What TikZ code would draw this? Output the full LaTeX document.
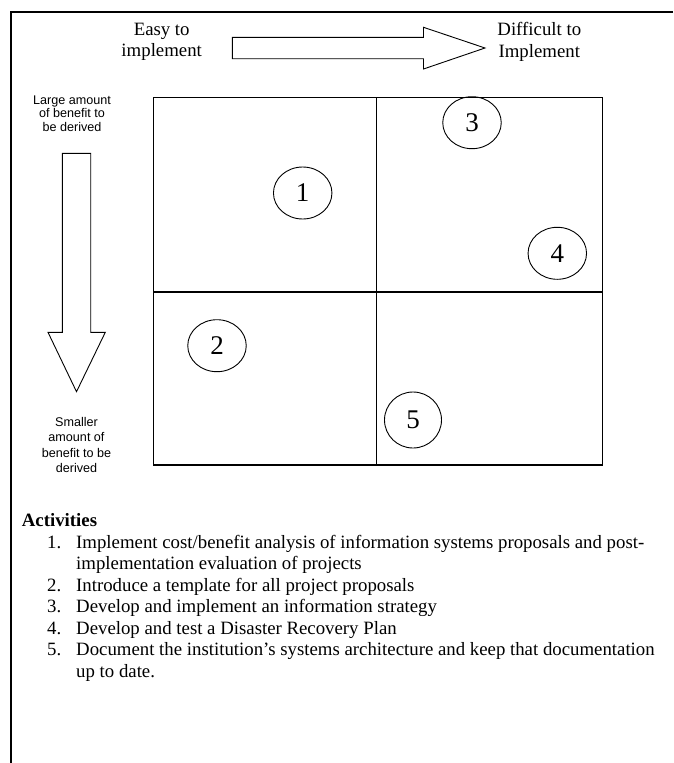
\documentclass[tikz,border=0pt]{standalone}
\usepackage{fontspec}
\setmainfont{Liberation Serif}
\setsansfont{Liberation Sans}
\usetikzlibrary{shapes.geometric}

\tikzset{
  body/.style={font=\fontsize{18.8}{21.5}\selectfont, align=center, inner sep=0pt},
  side/.style={font=\sffamily\fontsize{12.6}{13.5}\selectfont, align=center, inner sep=0pt},
  activity/.style={ellipse, draw, line width=0.9pt, minimum width=58.5pt,
    minimum height=52pt, inner sep=0pt, font=\fontsize{27}{27}\selectfont},
  blockarrow/.style={draw, line width=0.9pt},
}

\begin{document}
\begin{tikzpicture}[x=1pt, y=-1pt]
  \useasboundingbox (0,0) rectangle (673,763);
  % frame
  \draw[line width=2pt] (673,11.5) -- (10.5,11.5) -- (10.5,763);

  % top arrow and labels
  \node[body] (easy) at (161.7,42) {Easy to\\implement};
  \node[body] (hard) at (539.3,42) {Difficult to\\Implement};
  \draw[blockarrow] (232.3,37.3) -- (423.5,37.3) -- (423.5,27.3) -- (485,48)
    -- (423.5,69) -- (423.5,58.7) -- (232.3,58.7) -- cycle;

  % side arrow and labels
  \node[side] (large) at (72,113.5) {Large amount\\of benefit to\\be derived};
  \node[side, font=\sffamily\fontsize{12.6}{15.5}\selectfont] (small) at (76.5,445)
    {Smaller\\amount of\\benefit to be\\derived};
  \draw[blockarrow] (62.3,153.3) -- (90.7,153.3) -- (90.7,332.3) -- (105.3,332.3)
    -- (76.5,391.7) -- (48,332.3) -- (62.3,332.3) -- cycle;

  % quadrants
  \draw[line width=1.1pt] (153.5,97.5) rectangle (602.5,465);
  \draw[line width=1.1pt] (376.3,97.5) -- (376.3,465);
  \draw[line width=1.1pt] (153.5,292) -- (602.5,292);

  % activities
  \node[activity] (a1) at (302.7,193) {1};
  \node[activity] (a2) at (217,345.7) {2};
  \node[activity] (a3) at (472,122.7) {3};
  \node[activity] (a4) at (557.3,253.3) {4};
  \node[activity, minimum width=57pt, minimum height=56pt] (a5) at (413,420) {5};

  % list
  \node[body, anchor=base west] (head) at (21.7,526.5) {\bfseries Activities};
  \node[body, anchor=north west] (list) at (47,533) {%
    \begin{tabular}{@{}p{29pt}@{}l@{}}
      1. & Implement cost/benefit analysis of information systems proposals and post-\\
         & implementation evaluation of projects\\
      2. & Introduce a template for all project proposals\\
      3. & Develop and implement an information strategy\\
      4. & Develop and test a Disaster Recovery Plan\\
      5. & Document the institution’s systems architecture and keep that documentation\\
         & up to date.
    \end{tabular}};
\end{tikzpicture}
\end{document}
